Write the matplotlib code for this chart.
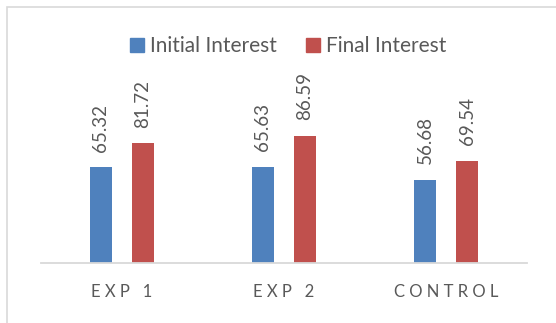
import numpy as np
import matplotlib.pyplot as plt
from matplotlib.patches import Rectangle, Patch

# Data
categories = ["EXP 1", "EXP 2", "CONTROL"]
initial_interest = [65.32, 65.63, 56.68]
final_interest = [81.72, 86.59, 69.54]
series_names = ["Initial Interest", "Final Interest"]

BLUE = "#4F81BD"
RED = "#C0504D"
TEXT = "#595959"
LINE = "#D9D9D9"

plt.rcParams['font.family'] = ['Lato', 'DejaVu Sans']

fig = plt.figure(figsize=(5.56, 3.23), dpi=100)
ax = fig.add_axes([41 / 556, 60 / 323, 486 / 556, 147 / 323])

x = np.arange(len(categories))
width = 0.136
offset = 0.13

bars1 = ax.bar(x - offset, initial_interest, width, color=BLUE)
bars2 = ax.bar(x + offset, final_interest, width, color=RED)

# rotated value labels above each bar
for bars, values in [(bars1, initial_interest), (bars2, final_interest)]:
    for b, v in zip(bars, values):
        ax.annotate(f"{v:.2f}", (b.get_x() + b.get_width() / 2, v),
                    xytext=(0, 11), textcoords="offset points",
                    rotation=90, ha="center", va="bottom",
                    fontsize=13.5, color=TEXT)

ax.set_xlim(-0.5, len(categories) - 0.5)
ax.set_ylim(0, 100)
ax.set_yticks([])
ax.set_xticks(x)
ax.set_xticklabels([" ".join(c) for c in categories], fontsize=12, color=TEXT)
ax.tick_params(axis="x", length=0, pad=15)

for side in ["top", "right", "left"]:
    ax.spines[side].set_visible(False)
ax.spines["bottom"].set_color(LINE)
ax.spines["bottom"].set_linewidth(1.3)
ax.patch.set_alpha(0)

handles = [Patch(color=BLUE), Patch(color=RED)]
fig.legend(handles, series_names, loc="center", bbox_to_anchor=(288 / 556, 1 - 46 / 323),
           ncol=2, frameon=False, fontsize=15, labelcolor=TEXT,
           handlelength=0.67, handleheight=0.67, handletextpad=0.3, columnspacing=1.4)

# chart border (cropped on right and bottom)
fig.patches.append(Rectangle((6.5 / 556, -0.1), 1.2, 1.1 - 7 / 323,
                             transform=fig.transFigure, fill=False,
                             edgecolor=LINE, linewidth=1.2))

fig.savefig("out.png", dpi=100)
